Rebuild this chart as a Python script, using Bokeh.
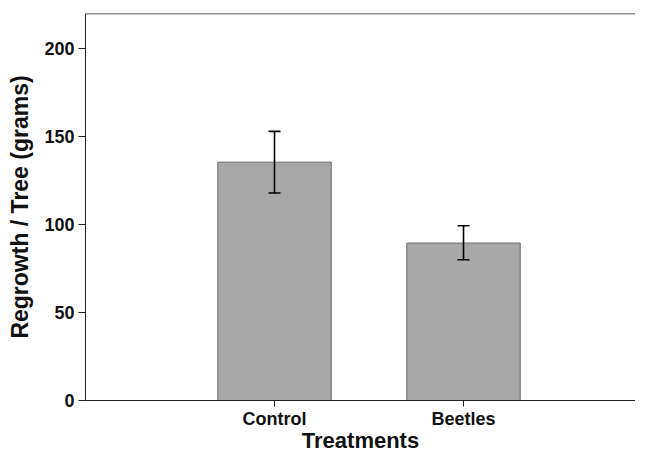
from bokeh.plotting import figure
from bokeh.models import ColumnDataSource, Range1d, FixedTicker, Whisker, Span
from bokeh.embed import file_html
from bokeh.resources import INLINE

treatments = ["Control", "Beetles"]
regrowth = [135.5, 89.5]
err_upper = [153.0, 99.3]
err_lower = [118.0, 80.0]
y_ticks = [0, 50, 100, 150, 200]
y_max = 220

xpos = [i + 1 for i in range(len(treatments))]
src = ColumnDataSource(dict(x=xpos, top=regrowth, upper=err_upper, lower=err_lower))

FONT = "Liberation Sans"
INK = "#111111"

p = figure(width=635, height=455, output_backend="svg", toolbar_location=None,
           x_range=Range1d(0, 2.91), y_range=Range1d(0, y_max),
           min_border_left=85, min_border_right=0, min_border_top=13, min_border_bottom=44)

p.vbar(x="x", top="top", width=0.6, bottom=0, source=src,
       fill_color="#a8a8a8", line_color="#6a6a6a", line_width=1)

w = Whisker(base="x", upper="upper", lower="lower", source=src,
            line_color="black", line_width=1.6, level="overlay")
w.upper_head.size = 12
w.lower_head.size = 12
w.upper_head.line_width = 1.6
w.lower_head.line_width = 1.6
p.add_layout(w)

# top border line
p.add_layout(Span(location=y_max, dimension="width", line_color="#222222", line_width=1.5))

p.grid.visible = False
p.outline_line_color = None
p.background_fill_color = None
p.border_fill_color = None

ya = p.yaxis[0]
ya.ticker = FixedTicker(ticks=y_ticks)
ya.minor_tick_line_color = None
ya.major_tick_in = 0
ya.major_tick_out = 7
ya.axis_line_color = "#222222"
ya.major_tick_line_color = "#222222"
ya.major_label_text_font = FONT
ya.major_label_text_font_style = "bold"
ya.major_label_text_font_size = "18px"
ya.major_label_text_color = INK
ya.major_label_standoff = 4
ya.axis_label = "Regrowth / Tree (grams)"
ya.axis_label_text_font = FONT
ya.axis_label_text_font_style = "bold"
ya.axis_label_text_font_size = "23px"
ya.axis_label_text_color = INK
ya.axis_label_standoff = 8

xa = p.xaxis[0]
xa.ticker = FixedTicker(ticks=xpos)
xa.major_label_overrides = {x: t for x, t in zip(xpos, treatments)}
xa.minor_tick_line_color = None
xa.major_tick_in = 0
xa.major_tick_out = 6
xa.axis_line_color = "#222222"
xa.major_tick_line_color = "#222222"
xa.major_label_text_font = FONT
xa.major_label_text_font_style = "bold"
xa.major_label_text_font_size = "18px"
xa.major_label_text_color = INK
xa.major_label_standoff = 2
xa.axis_label = "Treatments"
xa.axis_label_text_font = FONT
xa.axis_label_text_font_style = "bold"
xa.axis_label_text_font_size = "22px"
xa.axis_label_text_color = INK
xa.axis_label_standoff = -4

open("out.html", "w").write(file_html(p, INLINE))
